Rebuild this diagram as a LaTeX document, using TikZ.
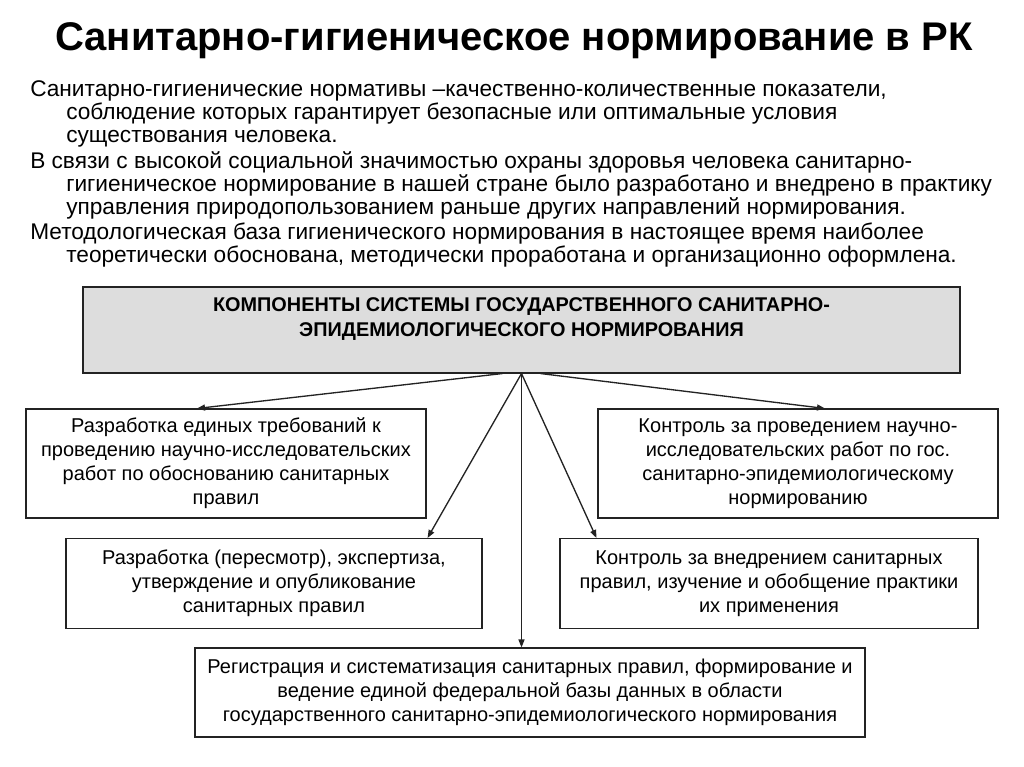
\documentclass[tikz,border=0pt]{standalone}
\usepackage{fontspec}
\setmainfont{Liberation Sans}
\usetikzlibrary{
  arrows.meta,
  positioning,
  calc
}
\usepackage{xcolor}
\definecolor{boxGray}{RGB}{221,221,221}
\definecolor{lineGray}{RGB}{35,35,35}
\newcommand{\ind}{\hspace*{27pt}}
\tikzset{
  plainbox/.style={
    draw=lineGray,
    line width=0.8pt,
    align=center,
    inner sep=0pt,
    font=\fontsize{15}{18}\selectfont
  },
  compbox/.style={
    plainbox,
    fill=boxGray,
    font=\bfseries\fontsize{14.9}{18.75}\selectfont
  },
  bodytext/.style={
    anchor=north west,
    align=left,
    inner sep=0pt,
    font=\fontsize{17}{17.25}\selectfont
  }
}

\begin{document}
\begin{tikzpicture}[x=0.75pt, y=-0.75pt, >={Triangle[length=6pt,width=4.5pt]}]
    \useasboundingbox (0,0) rectangle (1024,767);

    \node (title) at (514,41)
    {\bfseries\fontsize{30}{34}\selectfont
      Санитарно-гигиеническое нормирование в РК};

    \node[bodytext] (para1) at (30,80)
    {Санитарно-гигиенические нормативы –качественно-количественные показатели,\\
      \ind соблюдение которых гарантирует безопасные или оптимальные условия\\
      \ind существования человека.};
    \node[bodytext] (para2) at (30,151)
    {В связи с высокой социальной значимостью охраны здоровья человека санитарно-\\
      \ind гигиеническое нормирование в нашей стране было разработано и внедрено в практику\\
      \ind управления природопользованием раньше других направлений нормирования.};
    \node[bodytext] (para3) at (30,223)
    {Методологическая база гигиенического нормирования в настоящее время наиболее\\
      \ind теоретически обоснована, методически проработана и организационно оформлена.};

    \node[compbox, minimum width=657.75pt, minimum height=64.5pt] (comp) at (521.5,330)
    {КОМПОНЕНТЫ СИСТЕМЫ ГОСУДАРСТВЕННОГО САНИТАРНО-\\
      ЭПИДЕМИОЛОГИЧЕСКОГО НОРМИРОВАНИЯ\\ \mbox{}};

    \node[plainbox, minimum width=300pt, minimum height=81.75pt] (dev1) at (226,463.5)
    {Разработка единых требований к\\
      проведению научно-исследовательских\\
      работ по обоснованию санитарных\\
      правил};
    \node[plainbox, minimum width=300pt, minimum height=81.75pt] (ctrl1) at (798,463.5)
    {Контроль за проведением научно-\\
      исследовательских работ по гос.\\
      санитарно-эпидемиологическому\\
      нормированию};
    \node[plainbox, minimum width=312pt, minimum height=67.5pt] (dev2) at (274,583.5)
    {Разработка (пересмотр), экспертиза,\\
      утверждение и опубликование\\
      санитарных правил};
    \node[plainbox, minimum width=313.5pt, minimum height=67.5pt] (ctrl2) at (769,583.5)
    {Контроль за внедрением санитарных\\
      правил, изучение и обобщение практики\\
      их применения};
    \node[plainbox, minimum width=502.5pt, minimum height=66.75pt] (reg) at (530,692.5)
    {Регистрация и систематизация санитарных правил, формирование и\\
      ведение единой федеральной базы данных в области\\
      государственного санитарно-эпидемиологического нормирования};

    % arrows from the components box
    \draw[->, line width=1pt, lineGray]
    ($(comp.south)+(-19,0)$) -- ($(dev1.north)+(-29,0)$);
    \draw[->, line width=1pt, lineGray]
    ($(comp.south)+(19,0)$) -- ($(ctrl1.north)+(27,0)$);
    \draw[->, line width=1pt, lineGray]
    (comp.south) -- ($(dev2.north east)+(-55,0)$);
    \draw[->, line width=1pt, lineGray]
    (comp.south) -- ($(ctrl2.north west)+(37,0)$);
    \draw[->, line width=1pt, lineGray]
    (comp.south) -- (comp.south |- reg.north);
\end{tikzpicture}
\end{document}
